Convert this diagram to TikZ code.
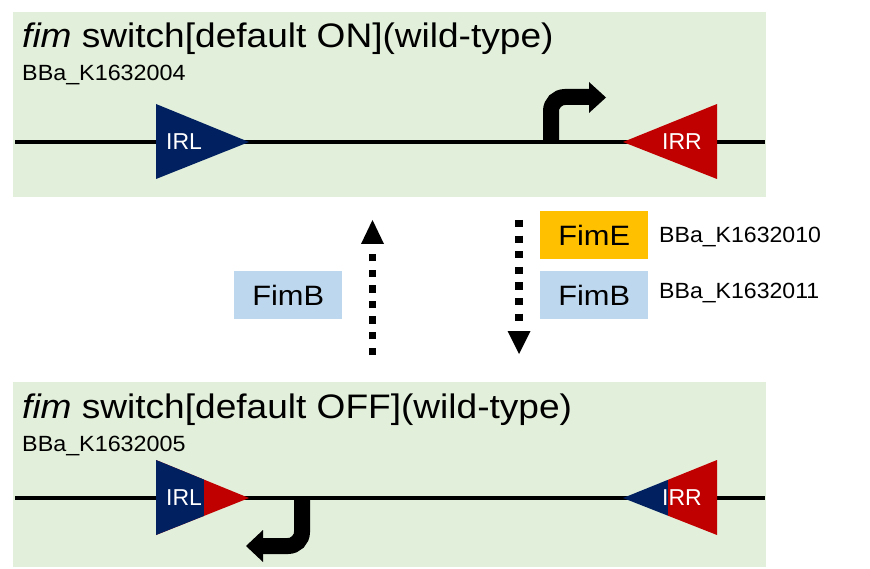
\documentclass[tikz,border=0pt]{standalone}
\usepackage{fontspec}
\setmainfont{Liberation Sans}
\usepackage{graphicx}
\definecolor{panel}{HTML}{E2EFDA}
\definecolor{navy}{HTML}{002060}
\definecolor{dred}{HTML}{C00000}
\definecolor{fime}{HTML}{FFC000}
\definecolor{fimb}{HTML}{BDD7EE}
\newcommand\stretchtxt[2]{\scalebox{#1}[1]{#2}}
\begin{document}
\begin{tikzpicture}[x=1pt,y=-1pt,
  panelbg/.style={fill=panel,draw=none},
  dnaline/.style={line width=3.5pt},
  irtext/.style={text=white,inner sep=0pt,font=\fontsize{23}{26}\selectfont},
  titletext/.style={anchor=base west,inner sep=0pt,font=\fontsize{34}{40}\selectfont},
  parttext/.style={anchor=base west,inner sep=0pt,font=\fontsize{22}{26}\selectfont},
  protbox/.style={minimum width=108pt,minimum height=48pt,inner sep=0pt,anchor=north west,font=\fontsize{28}{32}\selectfont},
  promoter/.style={line width=16pt,rounded corners=14pt},
  dotline/.style={line width=7.3pt,dash pattern=on 7.3pt off 8.3pt}]
\useasboundingbox (0,0) rectangle (870,569);
\fill[white] (0,0) rectangle (870,569);

% ---------- top panel (ON) ----------
\fill[panelbg] (13,12) rectangle (766,197);
\node[titletext] (t1) at (22,48) {\stretchtxt{1.09}{\textit{fim} switch[default ON](wild-type)}};
\node[parttext] (p1) at (22,81) {\stretchtxt{1.06}{BBa\_K1632004}};
\coordinate (l1a) at (15,142);
\coordinate (l1b) at (765,142);
\draw[dnaline] (l1a) -- (l1b);
\fill[navy] (156,104) -- (156,179) -- (249,142) -- cycle;
\fill[dred] (717,104) -- (717,179) -- (623,142) -- cycle;
\node[irtext] (irl1) at (184,142) {IRL};
\node[irtext] (irr1) at (682,142) {IRR};
\coordinate (pr1a) at (551,142);
\coordinate (pr1b) at (551,97);
\coordinate (pr1c) at (591,97);
\draw[promoter] (pr1a) -- (pr1b) -- (pr1c);
\fill (589,82) -- (606,97.5) -- (589,113) -- cycle;

% ---------- middle ----------
\coordinate (u1) at (372.5,355);
\coordinate (u2) at (372.5,252);
\draw[dotline] (u1) -- (u2);
\fill (361,244) -- (372.5,220) -- (384,244) -- cycle;
\coordinate (d1) at (519,220);
\coordinate (d2) at (519,323);
\draw[dotline] (d1) -- (d2);
\fill (507.5,331) -- (519,354) -- (530.5,331) -- cycle;

\node[protbox,fill=fimb] (fimbl) at (234,271) {\stretchtxt{1.1}{FimB}};
\node[protbox,fill=fime] (fime) at (540,211) {\stretchtxt{1.1}{FimE}};
\node[protbox,fill=fimb] (fimbr) at (540,271) {\stretchtxt{1.1}{FimB}};
\node[parttext] (p3) at (659,243) {\stretchtxt{1.05}{BBa\_K1632010}};
\node[parttext] (p4) at (659,299) {\stretchtxt{1.05}{BBa\_K1632011}};

% ---------- bottom panel (OFF) ----------
\fill[panelbg] (13,382) rectangle (766,567);
\node[titletext] (t2) at (22,418) {\stretchtxt{1.09}{\textit{fim} switch[default OFF](wild-type)}};
\node[parttext] (p2) at (22,451) {\stretchtxt{1.06}{BBa\_K1632005}};
\coordinate (l2a) at (15,498);
\coordinate (l2b) at (765,498);
\draw[dnaline] (l2a) -- (l2b);
\begin{scope}
  \clip (156,460) -- (156,535) -- (249,498) -- cycle;
  \fill[dred] (150,455) rectangle (255,540);
  \fill[navy] (150,455) rectangle (204,540);
\end{scope}
\begin{scope}
  \clip (717,460) -- (717,535) -- (623,498) -- cycle;
  \fill[navy] (615,455) rectangle (668,540);
  \fill[dred] (668,455) rectangle (725,540);
\end{scope}
\node[irtext] (irl2) at (184,498) {IRL};
\node[irtext] (irr2) at (682,498) {IRR};
\coordinate (pr2a) at (302,498);
\coordinate (pr2b) at (302,546);
\coordinate (pr2c) at (261,546);
\draw[promoter] (pr2a) -- (pr2b) -- (pr2c);
\fill (263,530) -- (246,546) -- (263,562) -- cycle;
\end{tikzpicture}
\end{document}
